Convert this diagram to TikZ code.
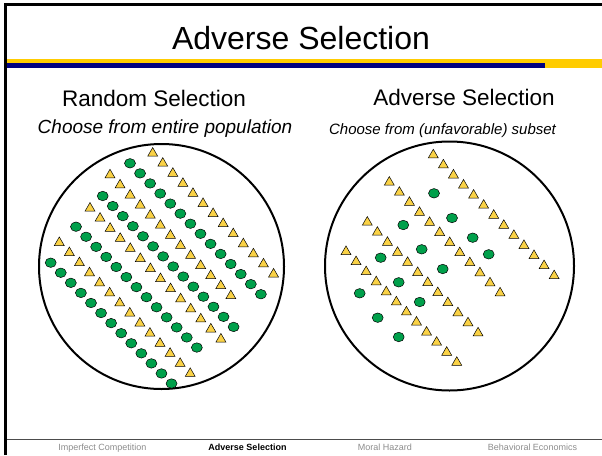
\documentclass[tikz,border=0pt]{standalone}
\usepackage{fontspec}
\setmainfont{Liberation Sans}
\usetikzlibrary{shapes.geometric}

\definecolor{bar navy}{RGB}{0,0,128}
\definecolor{bar gold}{RGB}{255,204,0}
\definecolor{low risk}{RGB}{0,160,75}
\definecolor{high risk}{RGB}{250,210,70}
\colorlet{tab grey}{black!45}
\tikzset{
  pool/.style={draw=black, line width=2pt},
  headline/.style={font=\fontsize{22.5}{27}\selectfont, anchor=base},
  tab/.style={font=\fontsize{9}{11}\selectfont, text=tab grey, anchor=base}
  }
\tikzstyle{good} = [ellipse, draw=black, line width=0.5pt, fill=low risk,
  minimum width=11pt, minimum height=9.5pt, inner sep=0pt]
\tikzstyle{bad} = [regular polygon, regular polygon sides=3, draw=black,
  line width=0.5pt, fill=high risk, minimum size=11.5pt, inner sep=0pt]
\def\stride{10.07}
\def\badrows{{152.7/153.3/13}, {110/175/13}, {90/208.3/14}, {59.3/242.7/14}}
\def\goodrows{{130/163.3/14}, {102.7/196/14}, {76/226.7/13}, {50.7/262.7/13}}
\def\subsetbad{{433.3/155/13}, {389.3/182.3/12}, {367.3/222.3/12}, {346/251.7/12}}
\def\subsetgood{434/193.3, 452/218, 472.7/237.7, 488.7/254.3, 403.3/225, 421.7/249.3, 442.7/269, 380.7/257.7, 398.7/282.3, 419.7/302, 359.7/293.3, 377.7/317.7, 398.7/337}

\begin{document}
\begin{tikzpicture}[x=1pt, y=-1pt]
    \useasboundingbox (0,0) rectangle (602,455);

    % Slide frame and title bar
    \draw[line width=3pt] (5.5,455) -- (5.5,4.5) -- (602,4.5);
    \draw[black!70, line width=1pt] (7,439) -- (602,439);
    \fill[bar gold] (7,59) rectangle (545,63);
    \fill[bar navy] (7,63) rectangle (545,68);
    \fill[bar gold] (545,59) rectangle (602,68);
    \node[font=\fontsize{32}{38}\selectfont, anchor=base] (title) at (301,49) {Adverse Selection};

    % The two headings
    \node[headline] (random) at (154,106) {Random Selection};
    \node[font=\fontsize{19}{23}\selectfont\itshape, anchor=base] (randomsub) at (165,133) {Choose from entire population};
    \node[headline] (adverse) at (464,105) {Adverse Selection};
    \node[font=\fontsize{15}{18}\selectfont\itshape, anchor=base] (adversesub) at (442.5,134) {Choose from (unfavorable) subset};

    % The entire population
    \draw[pool] (161.5,266.5) circle (122.5);
    \foreach \x/\y/\n [count=\r] in \badrows
      \foreach \k in {1,...,\n}
        \node[bad] (lt-\r-\k) at ({\x+(\k-1)*\stride},{\y+(\k-1)*\stride}) {};
    \foreach \x/\y/\n [count=\r] in \goodrows
      \foreach \k in {1,...,\n}
        \node[good] (lc-\r-\k) at ({\x+(\k-1)*\stride},{\y+(\k-1)*\stride}) {};

    % The unfavorable subset
    \draw[pool] (449.5,266) circle (124.5);
    \foreach \x/\y/\n [count=\r] in \subsetbad
      \foreach \k in {1,...,\n}
        \node[bad] (rt-\r-\k) at ({\x+(\k-1)*\stride},{\y+(\k-1)*\stride}) {};
    \foreach \x/\y [count=\i] in \subsetgood
      \node[good] (rc-\i) at (\x,\y) {};

    % Footer tabs
    \node[tab] (imperfect) at (102.5,450) {Imperfect Competition};
    \node[tab, text=black, font=\fontsize{9}{11}\selectfont\bfseries] (current) at (247.5,450) {Adverse Selection};
    \node[tab] (moral) at (385,450) {Moral Hazard};
    \node[tab] (behavioral) at (532.5,450) {Behavioral Economics};
\end{tikzpicture}
\end{document}
